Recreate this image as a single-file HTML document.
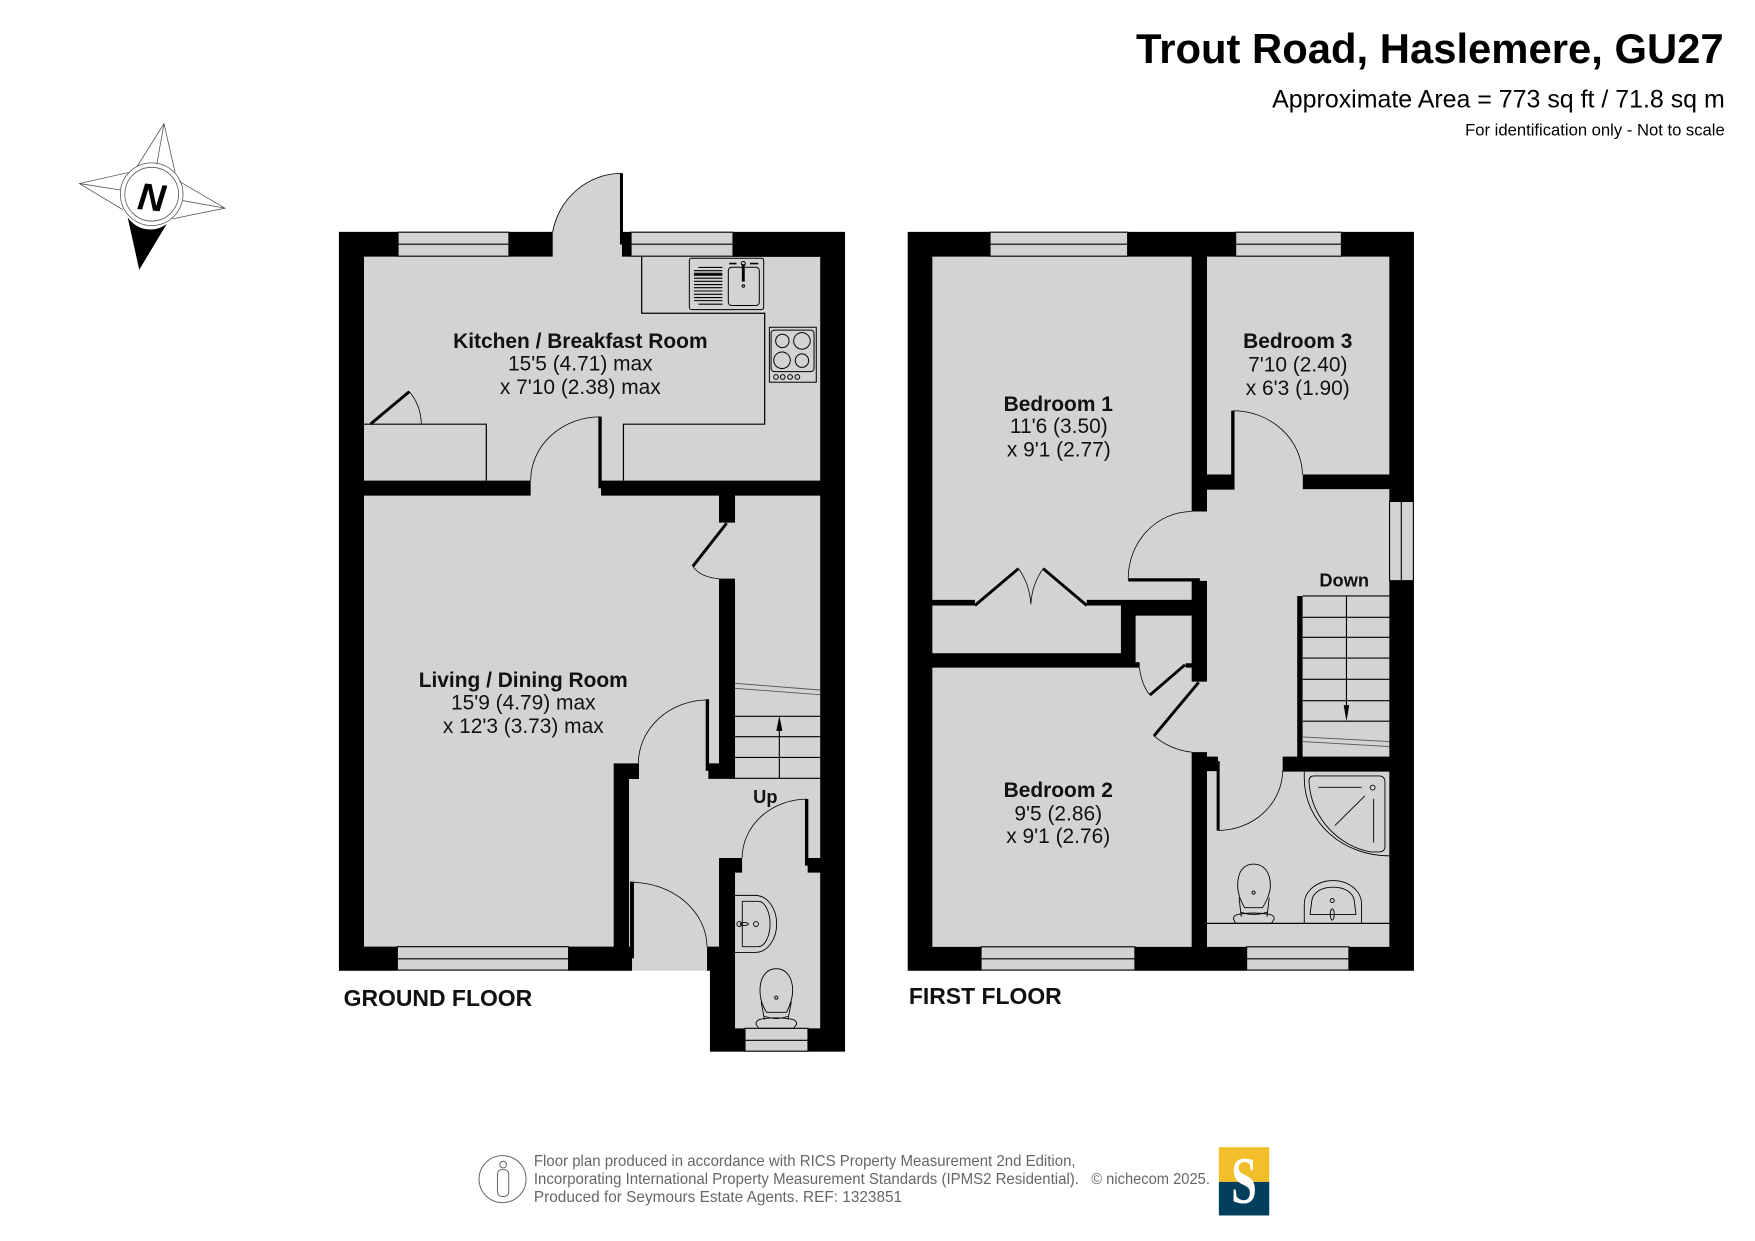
<!DOCTYPE html>
<html><head><meta charset="utf-8"><title>Trout Road floor plan</title>
<style>html,body{margin:0;padding:0;background:#fff}svg{display:block}
text{font-family:"Liberation Sans",Arial,sans-serif;fill:#111}
.b{font-weight:bold;font-size:18.7px;text-anchor:middle}
.r{font-size:18.7px;text-anchor:middle}
.f{font-size:14px;fill:#666}
.t{fill:none;stroke:#000;stroke-width:1.1}
.w{fill:#000}
</style></head><body>
<svg xmlns="http://www.w3.org/2000/svg" width="1755" height="1241" viewBox="0 0 1568 1108.8">
<rect width="1568" height="1109" fill="#fff"/>

<!-- HEADER -->
<text x="1540" y="56.5" text-anchor="end" font-weight="bold" font-size="37.35" style="fill:#000">Trout Road, Haslemere, GU27</text>
<text x="1541" y="96" text-anchor="end" font-size="22.3" style="fill:#000">Approximate Area = 773 sq ft / 71.8 sq m</text>
<text x="1541" y="121" text-anchor="end" font-size="14.87" style="fill:#000">For identification only - Not to scale</text>

<!-- COMPASS -->
<g fill="none" stroke="#555" stroke-width=".7">
<path d="M122.3,149 L146.5,110.5 L156.4,154 M146.5,110.5 L140.1,146.7"/>
<path d="M115.5,154 L71,164 L109.6,187.3 M71,164 L107.5,169.8"/>
<path d="M160,162 L201,186 L154,195.6 M201,186 L163.5,179.3"/>
<circle cx="135.5" cy="173.5" r="28"/><circle cx="135.5" cy="173.5" r="24"/>
</g>
<path d="M114,194 L124.4,241 L149,200 A24,24 0 0 1 114,194Z" fill="#000"/>
<text x="135.5" y="188" text-anchor="middle" font-weight="bold" font-style="italic" font-size="34" style="fill:#000" transform="rotate(6 136 176)">N</text>

<!-- GROUND FLOOR -->
<path d="M302.8,207.2H755V939.6H634.3V867.3H302.8Z" fill="#d3d3d3"/>
<path d="M555,154.8A63,64 0 0 0 492,218.5V229.3H555Z" fill="#d3d3d3"/>
<path d="M555,154.8A63,64 0 0 0 493.8,207.2" fill="none" stroke="#000" stroke-width=".7"/>
<path class="w" d="M302.8,207.2H355.6V229.3H325.2V845.8H355V867.3H302.8Z
M454.7,207.2H493.8V229.3H454.7Z
M553.9,154.8H556.6V207.2H563.8V229.3H555.7V218.5H553.9Z
M654.9,207.2H755V939.6H721.9V918.8H732.8V229.5H654.9Z
M325.2,429.4H474.1V442.8H325.2Z
M537,429.4H732.9V442.8H537Z
M534.6,372.2H537.6V436.2H534.6Z
M642.4,442.8H656.7V466.9H642.4Z
M642.4,517H656.7V695.4H632.9V688.6H630.5V624.8H633.5V682H642.4Z
M548.3,682H570.9V696H562V845.8H566.4V856.2H564.7V867.3H508V845.8H548.3Z
M562.9,787.7H566.4V856.2H562.9Z
M631.7,845.8H642.4V766.6H663V779.7H656.7V918.8H665.6V939.6H634.3V867.3H631.7Z
M719.2,713.9H722.2V766.6H733V779.7H721.6V773.4H719.2Z"/>
<g fill="#d3d3d3" stroke="#000" stroke-width="1">
<path d="M355.6,207.5H454.7V228.9H355.6ZM355.6,218.2H454.7"/>
<path d="M563.8,207.5H654.9V228.9H563.8ZM563.8,218.2H654.9"/>
<path d="M355,845.8H508V866.7H355ZM355,856.7H508"/>
<path d="M665.6,918.8H721.9V939.2H665.6ZM665.6,929.5H721.9"/>
</g>
<g fill="none" stroke="#000" stroke-width=".7">
<path d="M536,372.5A62,57 0 0 0 474.1,429.4"/>
<path d="M632,625.4A62,57 0 0 0 570.3,682"/>
<path d="M563.5,788.3A68,58 0 0 1 631.7,845.8"/>
<path d="M720.7,714A58,53 0 0 0 663,766.6"/>
<path d="M619,506Q626,516 642.4,517"/>
<path d="M365.7,349.9Q376,362 376.4,378.8"/>
</g>
<path d="M649.2,467.5L619,506" stroke="#000" stroke-width="2.6" fill="none"/>
<path d="M331.1,378.8L365.7,349.9" stroke="#000" stroke-width="2.6" fill="none"/>
<path d="M573.3,229.5V279.9H683.2V379H557V429.4M325.2,379H434.5V429.4" class="t"/>
<!-- sink -->
<g fill="none" stroke="#000" stroke-width=".9">
<rect x="615.9" y="230.7" width="66.4" height="45.9" rx="2"/>
<rect x="650.7" y="238.8" width="27.7" height="34.2" rx="3"/>
<path d="M624,239H645.4M620,241.8H645.4M620,244.2H645.4M620,248.6H645.4M620,251.3H645.4M620,254.3H645.4M620,257H645.4M620,260H645.4M620,263H645.4M620,265.9H645.4M620,268.6H645.4M624,271.8H645.4" stroke-width="1"/>
<path d="M620,245.6H645.4" stroke-width="1.6"/>
<path d="M664.1,236V251.6" stroke-width="2.6"/>
<circle cx="664.1" cy="235.4" r="1.8"/><circle cx="664.1" cy="255.5" r="1.1"/>
<path d="M651.6,235.5H658M670,235.5H677.5" stroke-width="1.4"/>
<rect x="687.4" y="292.4" width="41.9" height="49.1"/>
<rect x="688.9" y="295" width="38.4" height="37" rx="3"/>
<circle cx="699" cy="304.6" r="6"/><circle cx="716.5" cy="304.6" r="7.4"/>
<circle cx="698.7" cy="321.9" r="7.4"/><circle cx="716.5" cy="322.2" r="6"/>
<circle cx="693.3" cy="336.8" r="2.1"/><circle cx="699.3" cy="336.8" r="2.1"/><circle cx="705.9" cy="336.8" r="2.1"/><circle cx="712.4" cy="336.8" r="2.1"/>
</g>
<!-- stairs ground -->
<g fill="none" stroke="#000" stroke-width="1">
<path d="M656.7,640H732.8M656.7,658.2H732.8M656.7,676.7H732.8M632.9,695.4H732.8"/>
<path d="M696.3,695.4V650"/>
<path d="M656.7,610.5L732.6,616.5M656.7,615L732.6,620.7" stroke="#555" stroke-width=".8"/>
</g>
<path d="M696.3,639.4L693.6,653H699Z" fill="#000"/>
<!-- WC ground -->
<g fill="none" stroke="#000" stroke-width=".8">
<path d="M656.7,800H674.5C686,800 693.9,812 693.9,825.5C693.9,839 686,851 674.5,851H656.7"/>
<path d="M663.2,805.3H677.5C683,805.3 688,814 688,825.5C688,837 683,845.8 677.5,845.8H663.2Z"/>
<circle cx="660.5" cy="825.6" r="2.2"/><circle cx="675.4" cy="825.6" r="2.2"/><ellipse cx="665" cy="825.6" rx="3.7" ry="1.3"/>
<path d="M693.6,865.5C684,865.5 679,874 679,885C679,893 682,900 685,904.5H702.8C705,900 708.2,893 708.2,885C708.2,874 703,865.5 693.6,865.5Z"/>
<path d="M680,895L683,911M707,895L704,911M683,908Q693.6,912 704,908"/>
<path d="M679,910.7Q693.6,908 708,910.7Q711.8,912 711.8,915L709,918.8H678L675.4,915Q675.4,912 679,910.7Z"/>
<circle cx="693.6" cy="891.4" r="1.4"/>
</g>

<!-- FIRST FLOOR -->
<rect x="811" y="207.2" width="452.3" height="660.1" fill="#d3d3d3"/>
<path class="w" d="M811,207.2H884.5V229.3H833V846H876.5V867.3H811Z
M1007.5,207.2H1104V229.3H1078.4V424H1101V437.5H1078.4V457H1064.7V229.3H1007.5Z
M1198.5,207.2H1263.3V448H1241.3V229.3H1198.5Z
M1241.3,518.8H1263.3V867.3H1205V846H1241.3V689.4H1146V676H1241.3Z
M1164,424H1241.3V437H1164Z
M1100,367H1103V437.5H1100Z
M1008,516.7H1072V519.5H1008Z
M1064.7,519H1078.4V609H1064.7V596.5H1059.3V592.6H1064.7V550H1014.6V591.7H1018.2V596.5H833V583.7H1001.5V541H971V536H1064.7Z
M833,536H871V541H833Z
M1159,532.5H1163.8V676H1159Z
M1064.7,672H1078.4V676H1088.2V680H1089.7V742H1087V689H1078.4V846H1113.8V867.3H1014V846H1064.7Z"/>
<g fill="#d3d3d3" stroke="#000" stroke-width="1">
<path d="M884.5,207.5H1007.5V228.9H884.5ZM884.5,218.2H1007.5"/>
<path d="M1104,207.5H1198.5V228.9H1104ZM1104,218.2H1198.5"/>
<path d="M876.5,846H1014V866.7H876.5ZM876.5,856.7H1014"/>
<path d="M1113.8,846H1205.2V866.7H1113.8ZM1113.8,856.7H1205.2"/>
<path d="M1241.5,448H1262.8V518.8H1241.5ZM1252,448V518.8"/>
</g>
<g fill="none" stroke="#000" stroke-width=".7">
<path d="M1064.7,457A57,60 0 0 0 1008,517"/>
<path d="M1101.6,367A62,58 0 0 1 1163.7,424"/>
<path d="M910,508Q920,522 921,540M932,508Q922,522 921,540"/>
<path d="M1018,596.5Q1020,612 1027.4,621"/>
<path d="M1031,657.5Q1046,670 1064.7,672"/>
<path d="M1088.5,742A58,54 0 0 0 1146,688.5"/>
</g>
<path d="M871,541L910,508M932,508L971,541M1027.4,621L1058.7,594M1071,609.6L1031,657.5" stroke="#000" stroke-width="2.6" fill="none"/>
<!-- stairs first -->
<g fill="none" stroke="#000" stroke-width="1">
<path d="M1164,532.5H1241.3M1164,551.5H1241.3M1164,569.4H1241.3M1164,588H1241.3M1164,607H1241.3M1164,626H1241.3M1164,644.4H1241.3"/>
<path d="M1203,532.5V632"/>
<path d="M1164,658.4L1241.3,662.6M1164,662.6L1241.3,667" stroke="#555" stroke-width=".8"/>
</g>
<path d="M1203,644.4L1200.5,630H1205.5Z" fill="#000"/>
<!-- bathroom -->
<path d="M1078,825H1241.3" class="t"/>
<g fill="none" stroke="#000" stroke-width=".8">
<path d="M1165.3,689.4V695C1165.3,735 1200,764.7 1241.3,764.7"/>
<path d="M1174,693.3H1232Q1237.4,693.3 1237.4,699V756Q1237.4,761.2 1232,761.2H1225C1198,757 1171,732 1169.5,698Q1169.5,693.3 1174,693.3Z"/>
<path d="M1177.8,703.4H1216.5M1227.3,713.8V752.8M1192.7,737.6L1219.5,711"/>
<circle cx="1226.4" cy="703.7" r="2.2"/>
<path d="M1165.3,825V808C1165.3,795 1178,786.8 1191,786.8C1204,786.8 1216.5,795 1216.5,808V825"/>
<path d="M1170.5,817L1172,805C1173,797 1181,792.7 1191,792.7C1201,792.7 1209,797 1210,805L1211.5,817Z"/>
<circle cx="1190.3" cy="804.6" r="1.8"/><ellipse cx="1190.3" cy="817" rx="1.8" ry="5"/>
<path d="M1120,772C1111,772 1105.8,779 1105.8,791C1105.8,799 1109,806 1112,811H1128C1131,806 1135,799 1135,791C1135,779 1129,772 1120,772Z"/>
<path d="M1107,802L1109,819M1134,802L1132,819M1109,815Q1120,819 1132,815"/>
<path d="M1106,817Q1120,814.5 1134.5,817Q1138.5,818 1138.5,821L1136,825H1104L1102,821Q1102,818 1106,817Z"/>
<circle cx="1120" cy="797.5" r="1.4"/>
</g>

<!-- ROOM LABELS -->
<text class="b" x="518.5" y="311">Kitchen / Breakfast Room</text>
<text class="r" x="518.5" y="331">15'5 (4.71) max</text>
<text class="r" x="518.5" y="352">x 7'10 (2.38) max</text>
<text class="b" x="467.5" y="614">Living / Dining Room</text>
<text class="r" x="467.5" y="634">15'9 (4.79) max</text>
<text class="r" x="467.5" y="655">x 12'3 (3.73) max</text>
<text class="b" x="945.5" y="367">Bedroom 1</text>
<text class="r" x="946" y="387">11'6 (3.50)</text>
<text class="r" x="946" y="408">x 9'1 (2.77)</text>
<text class="b" x="1159.5" y="311">Bedroom 3</text>
<text class="r" x="1159.5" y="332">7'10 (2.40)</text>
<text class="r" x="1159.5" y="353">x 6'3 (1.90)</text>
<text class="b" x="945.5" y="712">Bedroom 2</text>
<text class="r" x="945.5" y="733">9'5 (2.86)</text>
<text class="r" x="945.5" y="753">x 9'1 (2.76)</text>
<text class="b" x="683.8" y="717.5" style="font-size:16.3px">Up</text>
<text class="b" x="1201" y="524" style="font-size:16.3px">Down</text>
<text x="307" y="899" font-weight="bold" font-size="20.5">GROUND FLOOR</text>
<text x="812" y="897" font-weight="bold" font-size="20.5">FIRST FLOOR</text>

<!-- FOOTER -->
<circle cx="449" cy="1053.5" r="21" fill="none" stroke="#666" stroke-width=".9"/>
<circle cx="449.5" cy="1040.5" r="3" fill="none" stroke="#666" stroke-width=".9"/>
<rect x="444.5" y="1045" width="10" height="24" rx="4" fill="none" stroke="#666" stroke-width=".9"/>
<text class="f" x="477" y="1042" textLength="484" lengthAdjust="spacingAndGlyphs">Floor plan produced in accordance with RICS Property Measurement 2nd Edition,</text>
<text class="f" x="477" y="1058" textLength="487" lengthAdjust="spacingAndGlyphs">Incorporating International Property Measurement Standards (IPMS2 Residential).</text>
<text class="f" x="477" y="1074" textLength="329" lengthAdjust="spacingAndGlyphs">Produced for Seymours Estate Agents.   REF: 1323851</text>
<text class="f" x="975" y="1058" textLength="106" lengthAdjust="spacingAndGlyphs">© nichecom 2025.</text>
<rect x="1089" y="1025" width="45" height="31" fill="#f2be2a"/>
<rect x="1089" y="1056" width="45" height="30" fill="#023f5c"/>
<text x="1100" y="1075" font-size="60" font-weight="bold" textLength="23" lengthAdjust="spacingAndGlyphs" style="font-family:'Liberation Serif',serif;fill:#fff">S</text>
</svg>
</body></html>
